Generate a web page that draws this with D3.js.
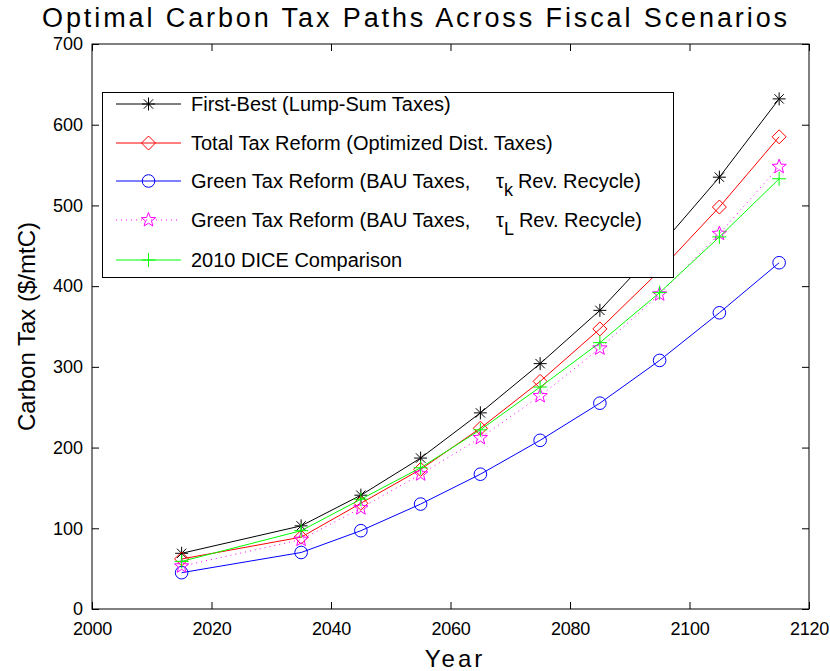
<!DOCTYPE html>
<html>
<head>
<meta charset="utf-8">
<script src="https://cdn.jsdelivr.net/npm/d3@7"></script>
<style>
  body { margin: 0; background: #fff; }
  svg text { font-family: "Liberation Sans", Arial, sans-serif; fill: #000; }
</style>
</head>
<body>
<div id="chart"></div>
<script>
// years and carbon tax values ($/mtC)
const years = [2015, 2035, 2045, 2055, 2065, 2075, 2085, 2095, 2105, 2115];
const firstBest = [69, 103, 141, 187, 243, 304, 370, 449, 535, 632];
const totalReform = [62, 89, 131, 173, 224, 282, 347, 419, 498, 585];
const greenTauK = [45, 70, 97, 130, 167, 209, 255, 308, 367, 429];
const greenTauL = [53, 86, 125, 167, 212, 264, 323, 390, 465, 548];
const dice2010 = [59, 97, 136, 175, 222, 275, 330, 392, 461, 533];
const xTicks = [2000, 2020, 2040, 2060, 2080, 2100, 2120];
const yTicks = [0, 100, 200, 300, 400, 500, 600, 700];

const W = 830, H = 671;
const L = 92, R = 809, T = 44, B = 609;

const svg = d3.select("#chart").append("svg")
  .attr("width", W).attr("height", H);

const x = d3.scaleLinear().domain([2000, 2120]).range([L, R]);
const y = d3.scaleLinear().domain([0, 700]).range([B, T]);

// marker drawers, size ~ matlab default
function star(g, cx, cy, c) {
  const r = 6.5, d = r * 0.72;
  g.append("path")
    .attr("d", `M${cx - r},${cy}H${cx + r}M${cx},${cy - r}V${cy + r}` +
      `M${cx - d},${cy - d}L${cx + d},${cy + d}M${cx - d},${cy + d}L${cx + d},${cy - d}`)
    .attr("stroke", c).attr("fill", "none");
}
function diamond(g, cx, cy, c) {
  const r = 7;
  g.append("path")
    .attr("d", `M${cx},${cy - r}L${cx + r},${cy}L${cx},${cy + r}L${cx - r},${cy}Z`)
    .attr("stroke", c).attr("fill", "none");
}
function circle(g, cx, cy, c) {
  g.append("circle").attr("cx", cx).attr("cy", cy).attr("r", 6.3)
    .attr("stroke", c).attr("fill", "none");
}
function pentagram(g, cx, cy, c) {
  const ro = 7.5, ri = ro * 0.42;
  const pts = d3.range(10).map(i => {
    const a = -Math.PI / 2 + i * Math.PI / 5;
    const rr = i % 2 ? ri : ro;
    return [cx + rr * Math.cos(a), cy + rr * Math.sin(a)];
  });
  g.append("path").attr("d", "M" + pts.join("L") + "Z")
    .attr("stroke", c).attr("fill", "none");
}
function plus(g, cx, cy, c) {
  const r = 7;
  g.append("path")
    .attr("d", `M${cx - r},${cy}H${cx + r}M${cx},${cy - r}V${cy + r}`)
    .attr("stroke", c).attr("fill", "none");
}

const series = [
  { name: "First-Best (Lump-Sum Taxes)", vals: firstBest, color: "#000000", mark: star, dash: null },
  { name: "Total Tax Reform (Optimized Dist. Taxes)", vals: totalReform, color: "#ff0000", mark: diamond, dash: null },
  { name: "Green Tax Reform (BAU Taxes,", sub: "k", vals: greenTauK, color: "#0000ff", mark: circle, dash: null },
  { name: "Green Tax Reform (BAU Taxes,", sub: "L", vals: greenTauL, color: "#ff00ff", mark: pentagram, dash: "1,4" },
  { name: "2010 DICE Comparison", vals: dice2010, color: "#00ff00", mark: plus, dash: null }
];

// axes box
svg.append("rect").attr("x", L).attr("y", T).attr("width", R - L).attr("height", B - T)
  .attr("fill", "#fff").attr("stroke", "#000").attr("stroke-width", 1);

const tk = 7;
const axB = svg.append("g").attr("transform", `translate(0,${B})`)
  .call(d3.axisBottom(x).tickValues(xTicks).tickFormat(d3.format("d")).tickSizeInner(-tk).tickSizeOuter(0).tickPadding(13));
const axT = svg.append("g").attr("transform", `translate(0,${T})`)
  .call(d3.axisTop(x).tickValues(xTicks).tickFormat("").tickSizeInner(-tk).tickSizeOuter(0));
const axL = svg.append("g").attr("transform", `translate(${L},0)`)
  .call(d3.axisLeft(y).tickValues(yTicks).tickSizeInner(-tk).tickSizeOuter(0).tickPadding(9));
const axR = svg.append("g").attr("transform", `translate(${R},0)`)
  .call(d3.axisRight(y).tickValues(yTicks).tickFormat("").tickSizeInner(-tk).tickSizeOuter(0));
[axB, axT, axL, axR].forEach(a => {
  a.select(".domain").remove();
  a.selectAll("line").attr("stroke", "#000");
  a.selectAll("text").attr("font-size", 18).attr("font-family", "Liberation Sans, Arial, sans-serif").attr("fill", "#000");
});
axB.selectAll("text").attr("letter-spacing", -0.3);

// lines and markers
const line = d3.line().x((d, i) => x(years[i])).y(d => y(d));
series.forEach(s => {
  svg.append("path").datum(s.vals).attr("d", line)
    .attr("fill", "none").attr("stroke", s.color).attr("stroke-width", 1)
    .attr("stroke-dasharray", s.dash);
  const g = svg.append("g");
  s.vals.forEach((v, i) => s.mark(g, x(years[i]), y(v), s.color));
});

// legend
const lg = svg.append("g");
lg.append("rect").attr("x", 102.5).attr("y", 92.5).attr("width", 571).attr("height", 185)
  .attr("fill", "#fff").attr("stroke", "#000");
const rowY = [104, 143, 181, 220, 260];
series.forEach((s, i) => {
  const yy = rowY[i];
  lg.append("line").attr("x1", 116).attr("x2", 181).attr("y1", yy).attr("y2", yy)
    .attr("stroke", s.color).attr("stroke-dasharray", s.dash);
  s.mark(lg, 148.5, yy, s.color);
  const t = lg.append("text").attr("x", 191).attr("y", yy + 7).attr("font-size", 20);
  t.append("tspan").text(s.name);
  if (s.sub) {
    t.append("tspan").attr("x", 496).text("\u03c4");
    t.append("tspan").attr("dy", 8).attr("font-size", 18).text(s.sub);
    t.append("tspan").attr("dy", -8).attr("dx", 5).text("Rev. Recycle)");
  }
});

// titles
svg.append("text").attr("x", 416).attr("y", 27).attr("text-anchor", "middle")
  .attr("font-size", 27).attr("letter-spacing", 2.9).text("Optimal Carbon Tax Paths Across Fiscal Scenarios");
svg.append("text").attr("x", 455).attr("y", 667).attr("text-anchor", "middle")
  .attr("font-size", 24).attr("letter-spacing", 3).text("Year");
svg.append("text").attr("transform", `translate(35,${(T + B) / 2}) rotate(-90)`)
  .attr("text-anchor", "middle").attr("font-size", 24).text("Carbon Tax ($/mtC)");
</script>
</body>
</html>
